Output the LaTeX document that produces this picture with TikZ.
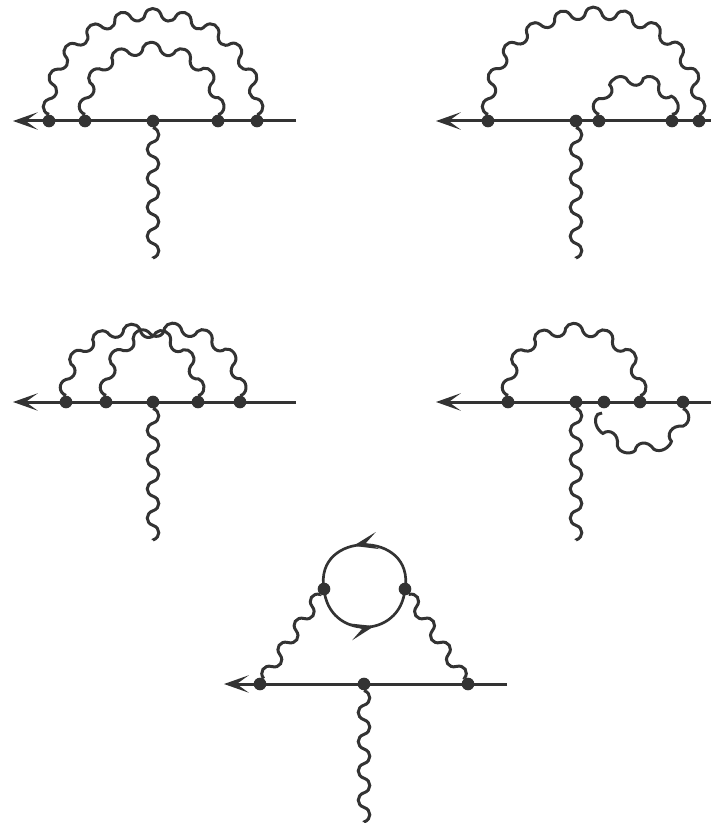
\documentclass[tikz,border=0pt]{standalone}
\usepackage{xcolor}
\usetikzlibrary{arrows.meta,decorations,decorations.markings}
\definecolor{ink}{HTML}{333333}
\pgfdeclaredecoration{photon}{initial}{
  \state{initial}[width=0pt,next state=up,persistent precomputation={%
    \pgfmathsetmacro\photonn{2*floor(\pgfdecoratedpathlength/\pgfdecorationsegmentlength)+1}%
    \pgfmathsetlengthmacro\photonw{\pgfdecoratedpathlength/\photonn}%
    \global\let\photonw\photonw}]{}
  \state{up}[switch if less than=.5*\photonw to final,width=\photonw,next state=down]{
    \pgfpathcurveto{\pgfpoint{.17*\photonw}{1.4*\pgfdecorationsegmentamplitude}}{\pgfpoint{.83*\photonw}{1.4*\pgfdecorationsegmentamplitude}}{\pgfpoint{\photonw}{0pt}}}
  \state{down}[switch if less than=.5*\photonw to final,width=\photonw,next state=up]{
    \pgfpathcurveto{\pgfpoint{.17*\photonw}{-1.4*\pgfdecorationsegmentamplitude}}{\pgfpoint{.83*\photonw}{-1.4*\pgfdecorationsegmentamplitude}}{\pgfpoint{\photonw}{0pt}}}
  \state{final}{\pgfpathlineto{\pgfpointdecoratedpathlast}}
}
\tikzset{vtx/.style={circle,fill=ink,draw=none,minimum size=0.38cm,inner sep=0pt},
  fermion/.style={draw=ink,line width=0.09cm,-{Stealth[length=0.74cm,width=0.52cm,inset=0.36cm]}},
  boson/.style={draw=ink,line width=0.09cm,decorate,decoration={photon,amplitude=0.165cm,segment length=0.93cm}},
  halfarc/.style={boson,out=90,in=90,looseness=1.64},
  lowarc/.style={boson,out=-90,in=-90,looseness=1.55},
  loopline/.style={draw=ink,line width=0.08cm,postaction={decorate},
    decoration={markings,mark=at position 0.58 with {\arrow{Stealth[length=0.74cm,width=0.52cm,inset=0.36cm]}}}}}

\begin{document}
\begin{tikzpicture}[x=0.03cm,y=-0.03cm]
\useasboundingbox (0,0) rectangle (711,823);
\node[vtx] (a1) at (49,121) {};
\node[vtx] (a2) at (85,121) {};
\node[vtx] (a3) at (153,121) {};
\node[vtx] (a4) at (218,121) {};
\node[vtx] (a5) at (257,121) {};
\coordinate (aL) at (13,121);
\coordinate (aR) at (296,121);
\coordinate (aB) at (153,258);
\draw[fermion] (aR)--(aL);
\draw[boson] (a3)--(aB);
\draw[halfarc] (a1) to (a5);
\draw[halfarc,looseness=1.69] (a2) to (a4);

\node[vtx] (b1) at (488,121) {};
\node[vtx] (b2) at (576,121) {};
\node[vtx] (b3) at (599,121) {};
\node[vtx] (b4) at (672,121) {};
\node[vtx] (b5) at (699,121) {};
\coordinate (bL) at (436,121);
\coordinate (bR) at (712,121);
\coordinate (bB) at (576,258);
\draw[fermion] (bR)--(bL);
\draw[boson] (b2)--(bB);
\draw[halfarc] (b1) to (b5);
\draw[halfarc,looseness=1.58] (b3) to (b4);

\node[vtx] (c1) at (66,402) {};
\node[vtx] (c2) at (106,402) {};
\node[vtx] (c3) at (153,402) {};
\node[vtx] (c4) at (198,402) {};
\node[vtx] (c5) at (240,402) {};
\coordinate (cL) at (13,402);
\coordinate (cR) at (296,402);
\coordinate (cB) at (153,540);
\draw[fermion] (cR)--(cL);
\draw[boson] (c3)--(cB);
\draw[halfarc,looseness=1.68] (c1) to (c4);
\draw[halfarc,looseness=1.68] (c2) to (c5);

\node[vtx] (d1) at (508,402) {};
\node[vtx] (d2) at (576,402) {};
\node[vtx] (d3) at (604,402) {};
\node[vtx] (d4) at (640,402) {};
\node[vtx] (d5) at (683,402) {};
\coordinate (dL) at (436,402);
\coordinate (dR) at (712,402);
\coordinate (dB) at (576,540);
\coordinate (dS) at (602,413);
\draw[fermion] (dR)--(dL);
\draw[boson] (d2)--(dB);
\draw[halfarc,looseness=1.7] (d1) to (d4);
\draw[lowarc] (d5) to (dS);

\node[vtx] (e1) at (260,684) {};
\node[vtx] (e2) at (364,684) {};
\node[vtx] (e3) at (468,684) {};
\node[vtx] (e4) at (324,589) {};
\node[vtx] (e5) at (405,589) {};
\coordinate (eL) at (224,684);
\coordinate (eR) at (507,684);
\coordinate (eB) at (364,822);
\draw[fermion] (eR)--(eL);
\draw[boson] (e2)--(eB);
\draw[boson] (e1)--(e4);
\draw[boson] (e5)--(e3);
\draw[loopline] (e5.center) to[out=80,in=100,looseness=1.9] (e4.center);
\draw[loopline] (e4.center) to[out=-85,in=-95,looseness=1.62] (e5.center);
\end{tikzpicture}
\end{document}
